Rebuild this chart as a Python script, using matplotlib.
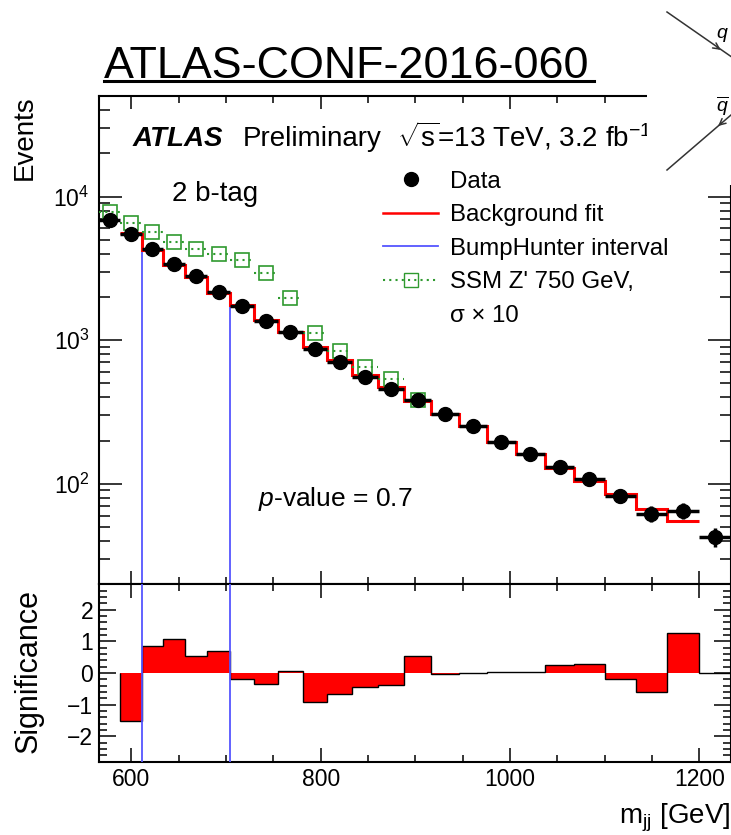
"""
Dijet invariant-mass spectrum (2 b-tag) with background fit, BumpHunter
interval and a Z' signal overlay, plus the bin-by-bin significance panel.
"""

import numpy as np
import matplotlib
matplotlib.use("Agg")
import matplotlib.pyplot as plt
from matplotlib.lines import Line2D
from matplotlib.patches import Rectangle, FancyArrowPatch
from matplotlib.ticker import MultipleLocator, LogLocator, NullFormatter

# ── data ─────────────────────────────────────────────────────────────────────
# m_jj bin edges [GeV]
EDGES = [566, 588, 611, 633, 657, 680, 704, 729, 755, 781, 807, 833, 860,
         888, 917, 946, 976, 1006, 1037, 1068, 1100, 1133, 1166, 1200, 1234]
# observed events per bin
DATA = [6890, 5470, 4330, 3420, 2780, 2180, 1740, 1370, 1140, 867, 711, 559,
        461, 385, 306, 251, 197, 162, 131, 108, 83, 62, 65, 43]
# background fit, bins 588 .. 1200
FIT = [5583, 4268, 3355, 2747, 2149, 1751, 1384, 1136, 894, 728, 569, 469,
       375, 306, 251, 197, 162, 128, 105, 85, 67, 55]
# background + SSM Z' (750 GeV, sigma x 10), bins 566 .. 917
SIG_PLUS_BKG = [7870, 6590, 5650, 4840, 4350, 3990, 3625, 2943, 1973, 1119,
                840, 656, 538, 385]
# significance, bins 588 .. 1234
SIGNIF = [-1.53, 0.86, 1.07, 0.54, 0.71, -0.19, -0.35, 0.07, -0.91, -0.65,
          -0.44, -0.39, 0.53, -0.02, -0.01, 0.02, 0.02, 0.24, 0.28, -0.18,
          -0.60, 1.26, 0.0]
BUMP_LO, BUMP_HI = 611, 704
P_VALUE = 0.7

XLIM = (566, 1233)
YLIM = (20, 5.04e4)
RLIM = (-2.8, 2.8)

GREEN = "#2f9a2f"
BLUE = "#5555ff"

# ── style ────────────────────────────────────────────────────────────────────
plt.rcParams["font.family"] = ["Liberation Sans", "DejaVu Sans"]
plt.rcParams["mathtext.fontset"] = "custom"
plt.rcParams["mathtext.rm"] = "Liberation Sans"
plt.rcParams["mathtext.it"] = "Liberation Sans:italic"
plt.rcParams["mathtext.bf"] = "Liberation Sans:bold"

W, H = 731, 835


def fx(x):
    return x / W


def fy(y):
    return 1 - y / H


fig = plt.figure(figsize=(W / 100, H / 100), dpi=100)
ax = fig.add_axes([fx(99.3), fy(584.3), (730.5 - 99.3) / W, (584.3 - 95.7) / H])
rax = fig.add_axes([fx(99.3), fy(761.7), (730.5 - 99.3) / W, (761.7 - 584.3) / H],
                   sharex=ax)

edges = np.array(EDGES, float)
centers = 0.5 * (edges[1:] + edges[:-1])
halfw = 0.5 * np.diff(edges)
data = np.array(DATA, float)
fit_edges = edges[1:len(FIT) + 2]
sig_edges = edges[1:]

# ── main panel ───────────────────────────────────────────────────────────────
ax.stairs(FIT, fit_edges, color="red", lw=2.2, baseline=None, zorder=2)

n_s = len(SIG_PLUS_BKG)
eb = ax.errorbar(centers[:n_s], SIG_PLUS_BKG, xerr=halfw[:n_s], fmt="s",
                 ms=10, mfc="none", mec=GREEN, mew=1.2, ecolor=GREEN,
                 elinewidth=1.5, capsize=0, zorder=3)
eb[2][0].set_linestyle((0, (1, 2)))

ax.errorbar(centers, data, xerr=halfw, yerr=np.sqrt(data), fmt="o", color="k",
            ms=10, elinewidth=2.5, capsize=0, zorder=4)

for edge in (BUMP_LO, BUMP_HI):
    i = np.searchsorted(fit_edges, edge)
    ax.vlines(edge, YLIM[0], min(FIT[i - 1], FIT[i]), color=BLUE, lw=1.3, zorder=1)
    rax.axvline(edge, color=BLUE, lw=1.3, zorder=3)

ax.set_yscale("log")
ax.set_xlim(*XLIM)
ax.set_ylim(*YLIM)
ax.yaxis.set_minor_locator(LogLocator(base=10, subs=range(2, 10), numticks=20))
ax.yaxis.set_minor_formatter(NullFormatter())
ax.xaxis.set_major_locator(MultipleLocator(200))
ax.xaxis.set_minor_locator(MultipleLocator(50))
ax.tick_params(which="both", direction="in", top=True, right=True,
               labelbottom=False, width=1.1, labelsize=16.5)
ax.tick_params(axis="x", which="major", length=9.4)
ax.tick_params(axis="x", which="minor", length=5)
ax.tick_params(axis="y", which="major", length=16.5, pad=7)
ax.tick_params(axis="y", which="minor", length=8)

handles = [
    Line2D([], [], marker="o", color="k", ls="none", ms=10),
    Line2D([], [], color="red", lw=1.8),
    Line2D([], [], color=BLUE, lw=1.3),
    Line2D([], [], color=GREEN, ls=(0, (1, 2)), lw=1.5, marker="s",
           mfc="none", mec=GREEN, ms=10),
    Line2D([], [], ls="none"),
]
labels = ["Data", "Background fit", "BumpHunter interval",
          "SSM Z' 750 GeV,", "σ × 10"]
ax.legend(handles, labels, loc="upper left", bbox_to_anchor=(fx(383), fy(170.8)),
          bbox_transform=fig.transFigure, frameon=False, fontsize=17.3,
          handlelength=2.3, handletextpad=0.5, labelspacing=0.48,
          borderpad=0, borderaxespad=0)

# ── significance panel ───────────────────────────────────────────────────────
rax.stairs(SIGNIF, sig_edges, fill=True, color="red", zorder=1)
rax.stairs(SIGNIF, sig_edges, color="k", lw=1.0, baseline=0, zorder=2)
rax.set_ylim(*RLIM)
rax.yaxis.set_major_locator(MultipleLocator(1))
rax.yaxis.set_minor_locator(MultipleLocator(0.2))
rax.tick_params(which="both", direction="in", top=True, right=True,
                width=1.1, labelsize=16.5)
rax.tick_params(axis="x", which="major", length=10, pad=4.5)
rax.tick_params(axis="x", which="minor", length=5)
rax.tick_params(axis="y", which="major", length=12, pad=4.5)
rax.tick_params(axis="y", which="minor", length=6)

for a in (ax, rax):
    for sp in a.spines.values():
        sp.set_linewidth(1.5)

# ── labels ───────────────────────────────────────────────────────────────────
fig.text(fx(104), fy(78), "ATLAS-CONF-2016-060", fontsize=32.3, va="baseline")
fig.add_artist(Line2D([fx(104), fx(594)], [fy(81), fy(81)], color="k", lw=2.2))

fig.text(fx(133), fy(146.5), "ATLAS", fontsize=20, weight="bold",
         style="italic", va="baseline")
fig.text(fx(243), fy(146.5), "Preliminary", fontsize=20, va="baseline")
fig.text(fx(397), fy(146.5), r"$\sqrt{\mathrm{s}}$=13 TeV, 3.2 fb$^{\mathrm{-1}}$",
         fontsize=20, va="baseline")
fig.text(fx(172), fy(201), "2 b-tag", fontsize=20, va="baseline")
fig.text(fx(258), fy(506), f"$p$-value = {P_VALUE}", fontsize=19, va="baseline")

fig.text(fx(25), fy(95), "Events", fontsize=20, rotation=90, ha="center", va="top")
fig.text(fx(29), fy(671), "Significance", fontsize=22, rotation=90,
         ha="center", va="center")
fig.text(fx(730), fy(823), r"m$_{\mathrm{jj}}$ [GeV]", fontsize=20,
         ha="right", va="baseline")

# ── diagram fragment in the top-right corner ────────────────────────────────
fig.add_artist(Rectangle((fx(647), fy(185)), 1 - fx(647), 185 / H,
                         transform=fig.transFigure, fc="white", ec="none", zorder=5))
for (x0, y0), (x1, y1) in [((667, 12), (731, 56.5)), ((667, 170), (731, 115))]:
    fig.add_artist(Line2D([fx(x0), fx(x1)], [fy(y0), fy(y1)], color="#333333",
                          lw=1.1, zorder=6))
for (xa, ya), (xb, yb) in [((714.8, 45.8), (723, 51.5)), ((723.6, 121.3), (716, 127.8))]:
    fig.add_artist(FancyArrowPatch((fx(xa), fy(ya)), (fx(xb), fy(yb)),
                                   transform=fig.transFigure, arrowstyle="->",
                                   mutation_scale=11, color="#333333", lw=1.1,
                                   zorder=6))
fig.text(fx(716), fy(38), "$q$", fontsize=14, va="baseline", zorder=7)
fig.text(fx(716), fy(112), r"$\overline{q}$", fontsize=14, va="baseline", zorder=7)

fig.savefig("out.png", dpi=100)
